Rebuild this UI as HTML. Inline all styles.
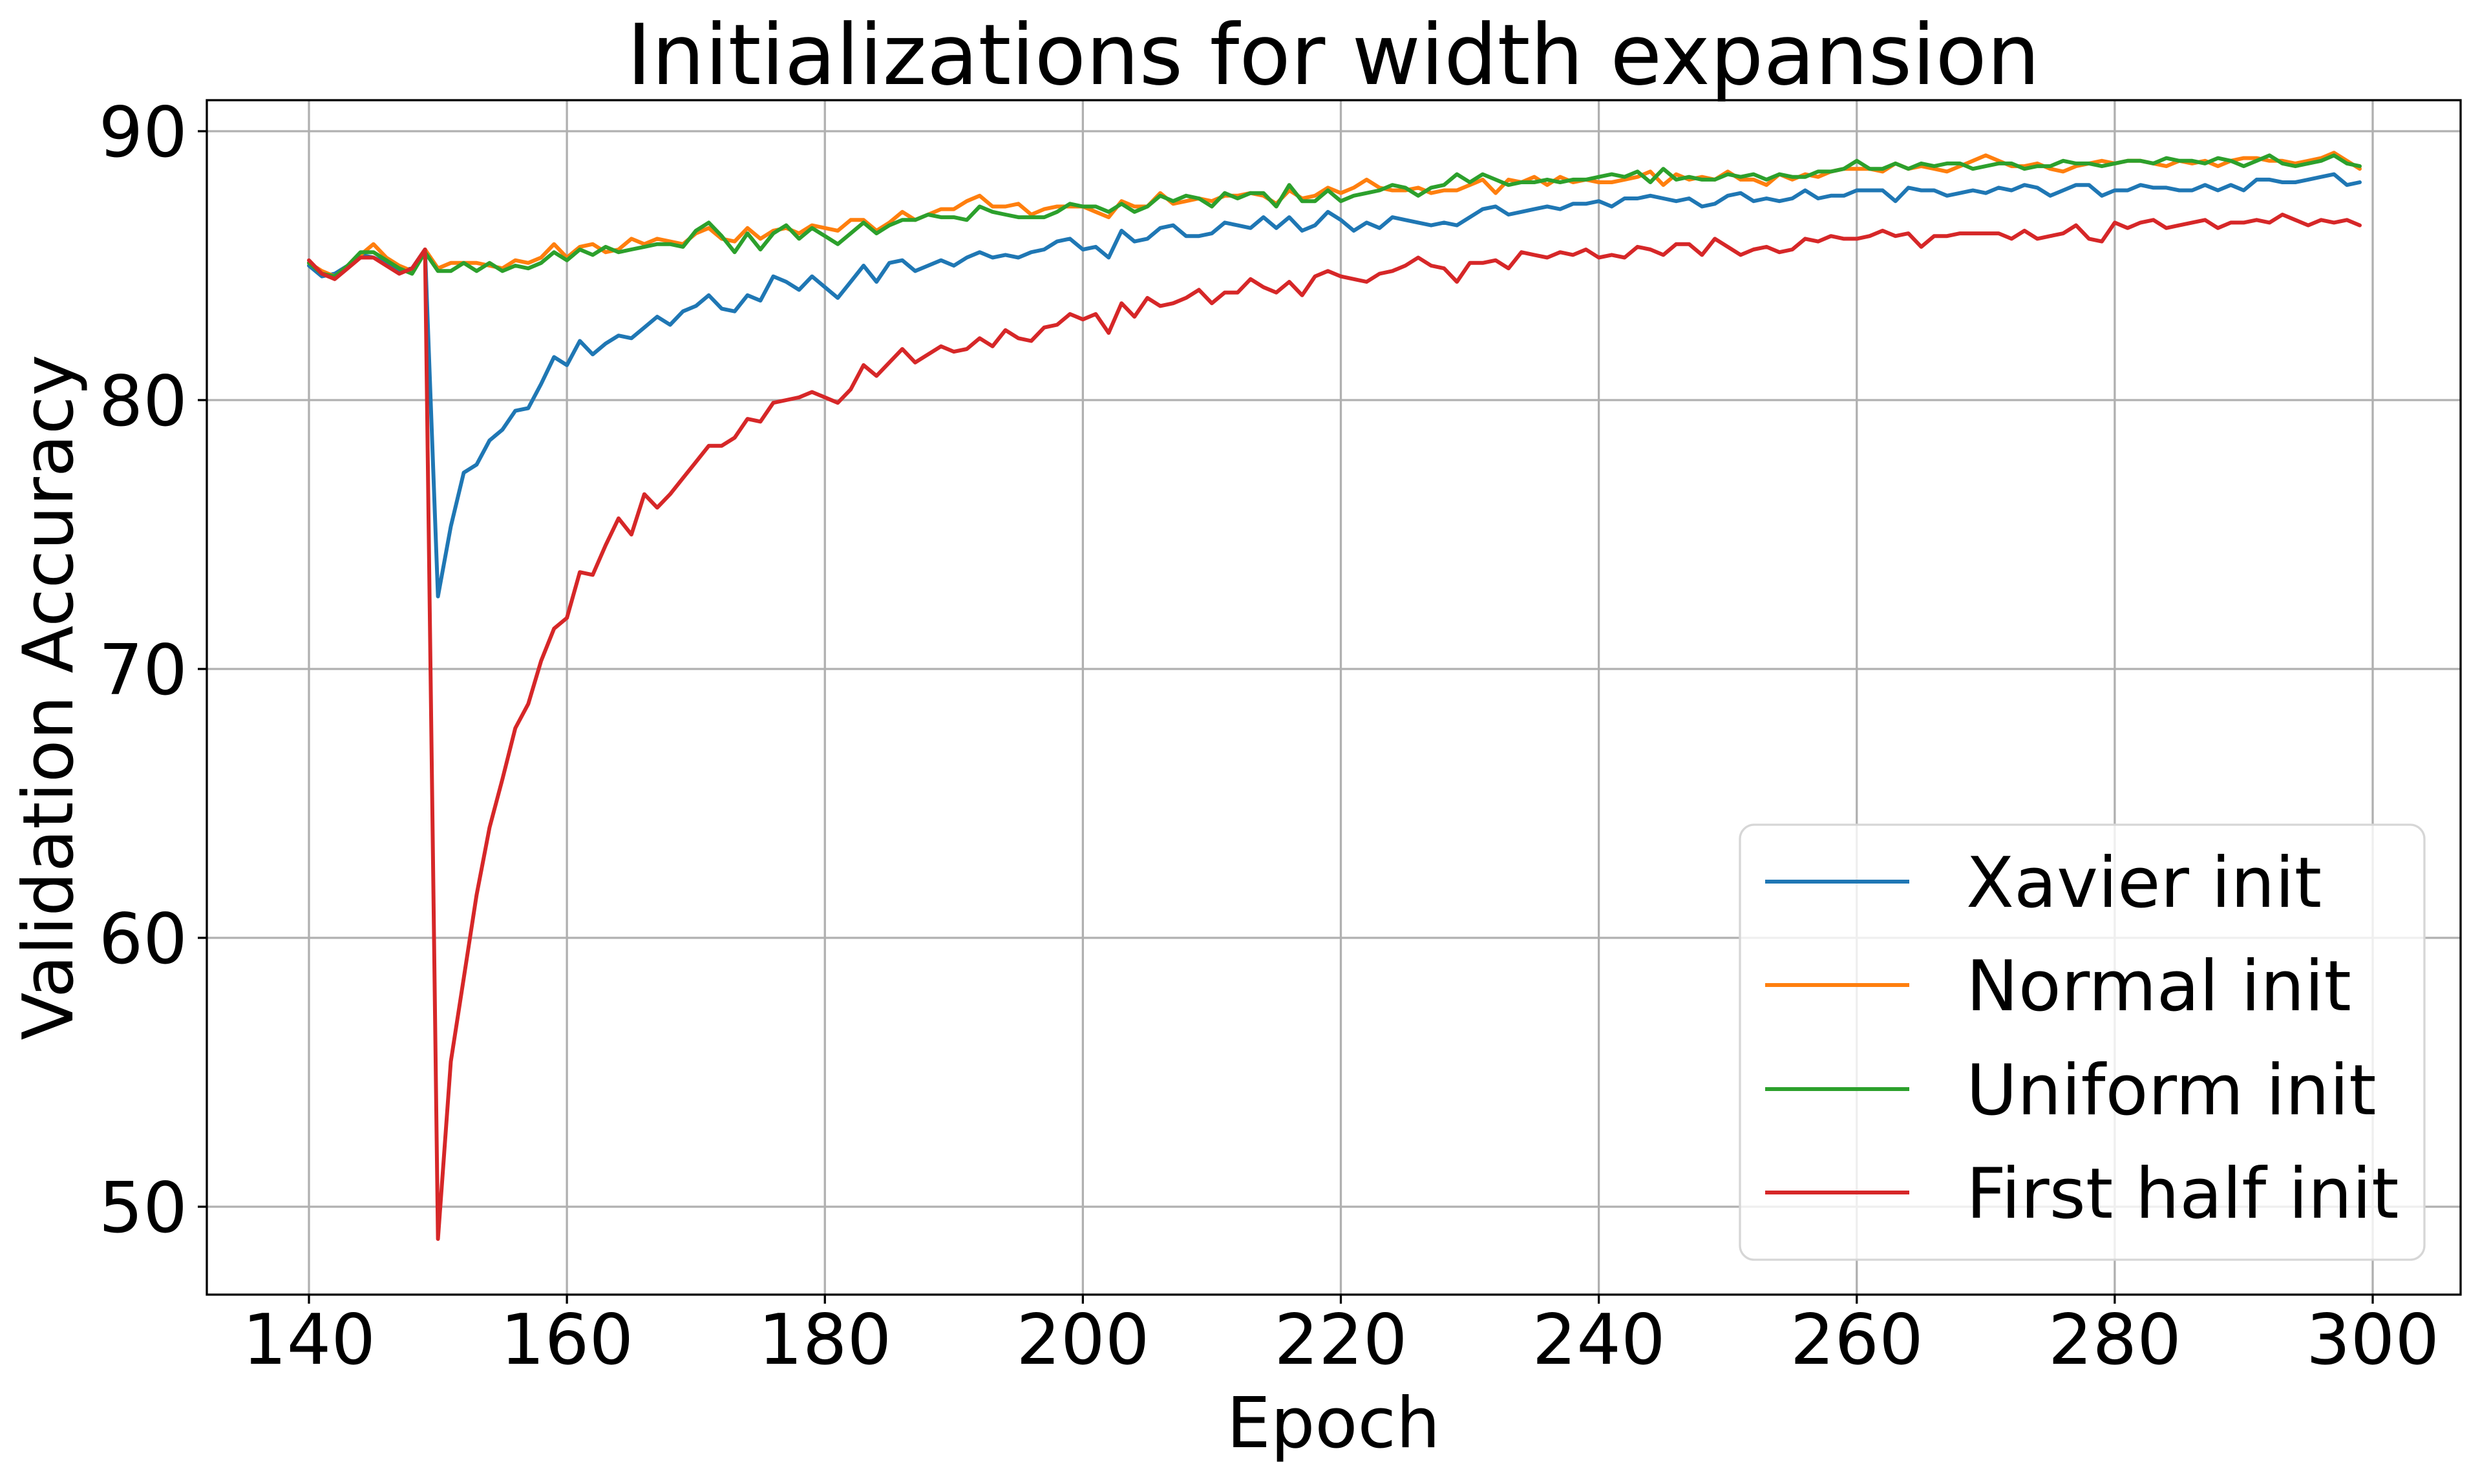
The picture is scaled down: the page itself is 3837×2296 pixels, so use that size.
<!DOCTYPE html>
<html><head><meta charset="utf-8"><style>
html,body{margin:0;padding:0;background:#fff;}
svg text{font-family:"DejaVu Sans","Liberation Sans",sans-serif;fill:#000;}
</style></head><body>
<svg id="chart" width="3837" height="2291" viewBox="0 0 3837 2291" xmlns="http://www.w3.org/2000/svg">
<rect width="3837" height="2291" fill="#fff"/>
<text x="2063" y="130" font-size="130" text-anchor="middle">Initializations for width expansion</text>
<g id="grid"></g>
<g id="series"></g>
<rect x="320" y="155" width="3487" height="1848" fill="none" stroke="#000" stroke-width="3.3"/>
<g id="ticks"></g>
<text x="2063" y="2239" font-size="108" text-anchor="middle">Epoch</text>
<text transform="translate(112,1079) rotate(-90)" font-size="108" text-anchor="middle">Validation Accuracy</text>
<g id="legend"></g>
</svg>
<script>
const xTicks=[140,160,180,200,220,240,260,280,300];
const yTicks=[50,60,70,80,90];
const seriesNames=["Xavier init","Normal init","Uniform init","First half init"];
const seriesColors=["#1f77b4","#ff7f0e","#2ca02c","#d62728"];
const xavier=[85.0,84.6,84.7,85.0,85.4,85.3,85.1,84.8,84.9,85.6,72.7,75.3,77.3,77.6,78.5,78.9,79.6,79.7,80.6,81.6,81.3,82.2,81.7,82.1,82.4,82.3,82.7,83.1,82.8,83.3,83.5,83.9,83.4,83.3,83.9,83.7,84.6,84.4,84.1,84.6,84.2,83.8,84.4,85.0,84.4,85.1,85.2,84.8,85.0,85.2,85.0,85.3,85.5,85.3,85.4,85.3,85.5,85.6,85.9,86.0,85.6,85.7,85.3,86.3,85.9,86.0,86.4,86.5,86.1,86.1,86.2,86.6,86.5,86.4,86.8,86.4,86.8,86.3,86.5,87.0,86.7,86.3,86.6,86.4,86.8,86.7,86.6,86.5,86.6,86.5,86.8,87.1,87.2,86.9,87.0,87.1,87.2,87.1,87.3,87.3,87.4,87.2,87.5,87.5,87.6,87.5,87.4,87.5,87.2,87.3,87.6,87.7,87.4,87.5,87.4,87.5,87.8,87.5,87.6,87.6,87.8,87.8,87.8,87.4,87.9,87.8,87.8,87.6,87.7,87.8,87.7,87.9,87.8,88.0,87.9,87.6,87.8,88.0,88.0,87.6,87.8,87.8,88.0,87.9,87.9,87.8,87.8,88.0,87.8,88.0,87.8,88.2,88.2,88.1,88.1,88.2,88.3,88.4,88.0,88.1];
const normal=[85.1,84.8,84.6,85.0,85.4,85.8,85.3,85.0,84.8,85.6,84.9,85.1,85.1,85.1,85.0,84.9,85.2,85.1,85.3,85.8,85.3,85.7,85.8,85.5,85.6,86.0,85.8,86.0,85.9,85.8,86.2,86.4,86.0,85.9,86.4,86.0,86.3,86.4,86.2,86.5,86.4,86.3,86.7,86.7,86.3,86.6,87.0,86.7,86.9,87.1,87.1,87.4,87.6,87.2,87.2,87.3,86.9,87.1,87.2,87.2,87.2,87.0,86.8,87.4,87.2,87.2,87.7,87.3,87.4,87.5,87.4,87.6,87.6,87.7,87.6,87.3,87.8,87.5,87.6,87.9,87.7,87.9,88.2,87.9,87.8,87.8,87.9,87.7,87.8,87.8,88.0,88.2,87.7,88.2,88.1,88.3,88.0,88.3,88.1,88.2,88.1,88.1,88.2,88.3,88.5,88.0,88.4,88.2,88.3,88.2,88.5,88.2,88.2,88.0,88.4,88.2,88.4,88.3,88.5,88.6,88.6,88.6,88.5,88.8,88.6,88.7,88.6,88.5,88.7,88.9,89.1,88.9,88.7,88.7,88.8,88.6,88.5,88.7,88.8,88.9,88.8,88.9,88.9,88.8,88.7,88.9,88.8,88.9,88.7,88.9,89.0,89.0,88.9,88.9,88.8,88.9,89.0,89.2,88.9,88.6];
const uniform=[85.1,84.7,84.6,85.0,85.5,85.5,85.2,84.9,84.7,85.5,84.8,84.8,85.1,84.8,85.1,84.8,85.0,84.9,85.1,85.5,85.2,85.6,85.4,85.7,85.5,85.6,85.7,85.8,85.8,85.7,86.3,86.6,86.1,85.5,86.2,85.6,86.2,86.5,86.0,86.4,86.1,85.8,86.2,86.6,86.2,86.5,86.7,86.7,86.9,86.8,86.8,86.7,87.2,87.0,86.9,86.8,86.8,86.8,87.0,87.3,87.2,87.2,87.0,87.3,87.0,87.2,87.6,87.4,87.6,87.5,87.2,87.7,87.5,87.7,87.7,87.2,88.0,87.4,87.4,87.8,87.4,87.6,87.7,87.8,88.0,87.9,87.6,87.9,88.0,88.4,88.1,88.4,88.2,88.0,88.1,88.1,88.2,88.1,88.2,88.2,88.3,88.4,88.3,88.5,88.1,88.6,88.2,88.3,88.2,88.2,88.4,88.3,88.4,88.2,88.4,88.3,88.3,88.5,88.5,88.6,88.9,88.6,88.6,88.8,88.6,88.8,88.7,88.8,88.8,88.6,88.7,88.8,88.8,88.6,88.7,88.7,88.9,88.8,88.8,88.7,88.8,88.9,88.9,88.8,89.0,88.9,88.9,88.8,89.0,88.9,88.7,88.9,89.1,88.8,88.7,88.8,88.9,89.1,88.8,88.7];
const firstHalf=[85.2,84.7,84.5,84.9,85.3,85.3,85.0,84.7,84.9,85.6,48.8,55.4,58.5,61.6,64.1,65.9,67.8,68.7,70.3,71.5,71.9,73.6,73.5,74.6,75.6,75.0,76.5,76.0,76.5,77.1,77.7,78.3,78.3,78.6,79.3,79.2,79.9,80.0,80.1,80.3,80.1,79.9,80.4,81.3,80.9,81.4,81.9,81.4,81.7,82.0,81.8,81.9,82.3,82.0,82.6,82.3,82.2,82.7,82.8,83.2,83.0,83.2,82.5,83.6,83.1,83.8,83.5,83.6,83.8,84.1,83.6,84.0,84.0,84.5,84.2,84.0,84.4,83.9,84.6,84.8,84.6,84.5,84.4,84.7,84.8,85.0,85.3,85.0,84.9,84.4,85.1,85.1,85.2,84.9,85.5,85.4,85.3,85.5,85.4,85.6,85.3,85.4,85.3,85.7,85.6,85.4,85.8,85.8,85.4,86.0,85.7,85.4,85.6,85.7,85.5,85.6,86.0,85.9,86.1,86.0,86.0,86.1,86.3,86.1,86.2,85.7,86.1,86.1,86.2,86.2,86.2,86.2,86.0,86.3,86.0,86.1,86.2,86.5,86.0,85.9,86.6,86.4,86.6,86.7,86.4,86.5,86.6,86.7,86.4,86.6,86.6,86.7,86.6,86.9,86.7,86.5,86.7,86.6,86.7,86.5];
const startEpoch=140;

const NS="http://www.w3.org/2000/svg";
const X0=320,X1=3807,Y0=155,Y1=2003;
function xs(e){return 478+(e-140)*(3671-478)/160;}
function ys(v){return 203+(90-v)*(1867-203)/40;}
function mk(tag,attrs,parent){const el=document.createElementNS(NS,tag);for(const k in attrs)el.setAttribute(k,attrs[k]);parent.appendChild(el);return el;}
const grid=document.getElementById('grid'),ticks=document.getElementById('ticks'),series=document.getElementById('series'),legend=document.getElementById('legend');
xTicks.forEach(t=>{
  const g=mk('line',{x1:xs(t),x2:xs(t),y1:Y0,y2:Y1,stroke:'#b0b0b0','stroke-width':3.3},grid);
  
  
  const tk=mk('line',{x1:xs(t),x2:xs(t),y1:Y1,y2:Y1+14,stroke:'#000','stroke-width':3.3},ticks);
  
  
  const tx=mk('text',{x:xs(t),y:2110,'font-size':108,'text-anchor':'middle'},ticks);
  tx.textContent=t;
  
  
});
yTicks.forEach(t=>{
  const g=mk('line',{x1:X0,x2:X1,y1:ys(t),y2:ys(t),stroke:'#b0b0b0','stroke-width':3.3},grid);
  
  
  const tk=mk('line',{x1:X0-14,x2:X0,y1:ys(t),y2:ys(t),stroke:'#000','stroke-width':3.3},ticks);
  
  
  const tx=mk('text',{x:X0-30,y:ys(t)+39,'font-size':108,'text-anchor':'end'},ticks);
  tx.textContent=t;
  
  
});
const allSeries=[xavier,normal,uniform,firstHalf];
const seriesKeys=['xavier','normal','uniform','first-half'];
allSeries.forEach((arr,si)=>{
  const pts=arr.map((v,i)=>xs(startEpoch+i).toFixed(1)+','+ys(v).toFixed(1)).join(' ');
  const pl=mk('polyline',{points:pts,fill:'none',stroke:seriesColors[si],'stroke-width':6,'stroke-linejoin':'round','stroke-linecap':'round'},series);
  
  
});
const box=mk('rect',{x:2692,y:1276,width:1059,height:673,rx:22,fill:'#fff','fill-opacity':0.8,stroke:'#d6d6d6','stroke-width':3.3},legend);


const rowY=[1364,1524,1685,1845];
seriesNames.forEach((n,i)=>{
  const l=mk('line',{x1:2731,x2:2954,y1:rowY[i],y2:rowY[i],stroke:seriesColors[i],'stroke-width':6},legend);
  
  
  const t=mk('text',{x:3042,y:rowY[i]+39,'font-size':108},legend);
  t.textContent=n;
  
  
});
</script>
</body></html>
